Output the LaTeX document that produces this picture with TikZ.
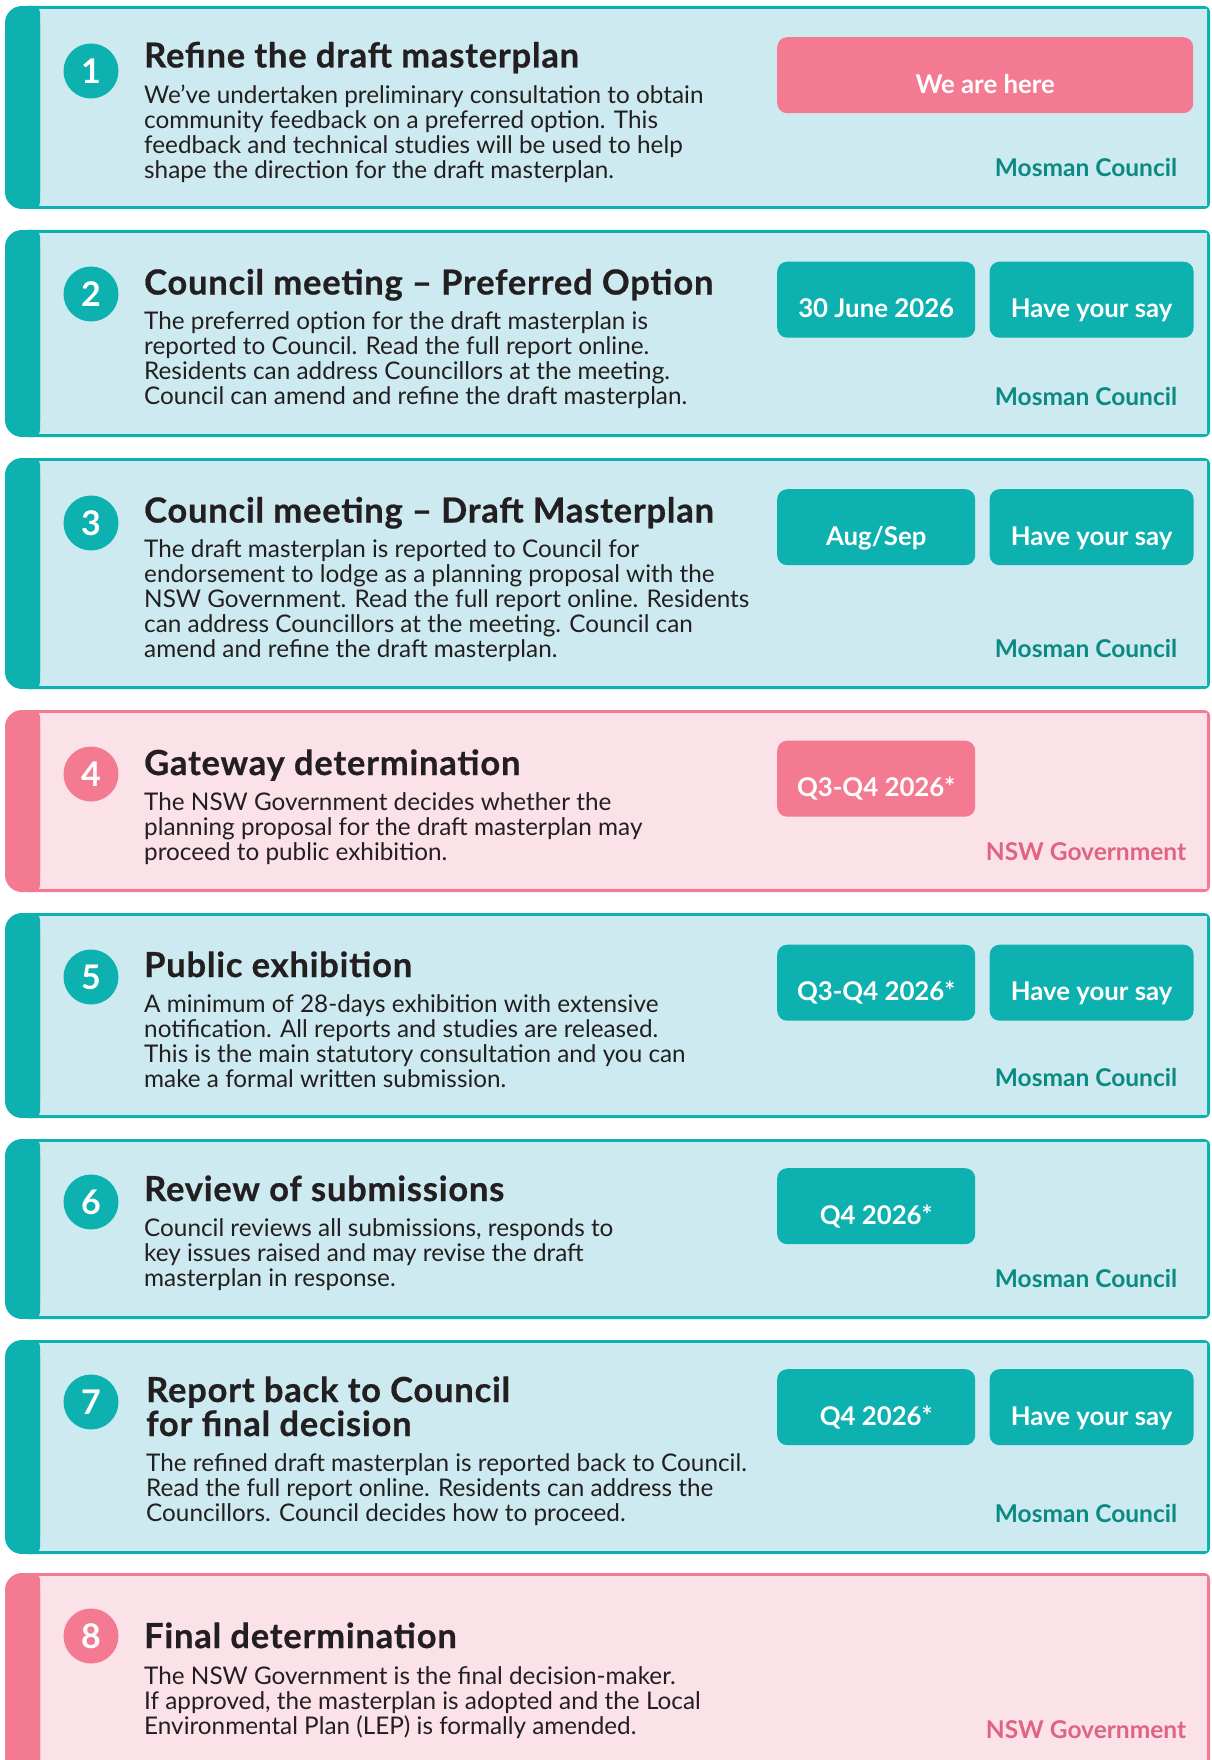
\documentclass[tikz,border=0pt]{standalone}
\usepackage{fontspec}
\setmainfont{Lato}
\usetikzlibrary{positioning}
\definecolor{barteal}{HTML}{0DB1AF}
\definecolor{bgteal}{HTML}{CDEAF0}
\definecolor{barpink}{HTML}{F37A91}
\definecolor{bgpink}{HTML}{FBE2E8}
\definecolor{orgteal}{HTML}{0B8A84}
\definecolor{orgpink}{HTML}{E06482}
\definecolor{ink}{HTML}{231F20}
\begin{document}
\begin{tikzpicture}[x=1pt,y=-1pt,
	heading/.style={anchor=base west,inner sep=0pt,text=ink,font=\fontsize{34.5}{34}\selectfont\bfseries\addfontfeatures{LetterSpace=2.3,FakeBold=0.6}},
	blurb/.style={anchor=north west,inner sep=0pt,align=left,text=ink,font=\fontsize{24.3}{25}\selectfont},
	badge/.style={circle,inner sep=0pt,minimum size=55pt,text=white,font=\fontsize{34}{34}\selectfont\bfseries},
	tag/.style={anchor=north west,rounded corners=10pt,inner sep=0pt,minimum height=76pt,minimum width=198pt,text height=36pt,text depth=0pt,text=white,font=\fontsize{25.8}{26}\selectfont\bfseries},
	org/.style={anchor=base,inner sep=0pt,font=\fontsize{24.5}{25}\selectfont\bfseries}]
	\clip (0,0) rectangle (1211,1760);
	\fill[white] (0,0) rectangle (1211,1760);
	\foreach \t/\b/\c in {6/209/teal,230/437/teal,458/689/teal,710/892/pink,913/1118/teal,1139/1319/teal,1340/1554/teal,1573/1790/pink}
	{
		\fill[bar\c,rounded corners=6pt] (20,\t) rectangle (1210,\b);
		\fill[bg\c] (22,\t+3) rectangle (1207,\b-3);
		\fill[bar\c,rounded corners=17pt] (5,\t) rectangle (40,\b);
		\fill[bar\c,rounded corners=7pt] (22,\t) rectangle (40,\b);
	}
	% 1
	\node[badge,fill=barteal] (n1) at (91,71) {1};
	\node[heading] (h1) at (144,67.5) {Refine the draft masterplan};
	\node[blurb,below=17pt of h1.base west,anchor=north west] (b1) {We've undertaken preliminary consultation to obtain\\community feedback on a preferred option. This\\feedback and technical studies will be used to help\\shape the direction for the draft masterplan.};
	\node[tag,fill=barpink,minimum width=416pt] (d1) at (777,37) {We are here};
	\node[org,text=orgteal] (o1) at (1086,177) {Mosman Council};
	% 2
	\node[badge,fill=barteal] (n2) at (91,294) {2};
	\node[heading] (h2) at (144,294.5) {Council meeting – Preferred Option};
	\node[blurb,below=17pt of h2.base west,anchor=north west] (b2) {The preferred option for the draft masterplan is\\reported to Council. Read the full report online.\\Residents can address Councillors at the meeting.\\Council can amend and refine the draft masterplan.};
	\node[tag,fill=barteal] (d2) at (777,261.5) {30 June 2026};
	\node[tag,fill=barteal,minimum width=204pt,right=14pt of d2] (s2) {Have your say};
	\node[org,text=orgteal] (o2) at (1086,405) {Mosman Council};
	% 3
	\node[badge,fill=barteal] (n3) at (91,523) {3};
	\node[heading] (h3) at (144,522.5) {Council meeting – Draft Masterplan};
	\node[blurb,below=17pt of h3.base west,anchor=north west] (b3) {The draft masterplan is reported to Council for\\endorsement to lodge as a planning proposal with the\\NSW Government. Read the full report online. Residents\\can address Councillors at the meeting. Council can\\amend and refine the draft masterplan.};
	\node[tag,fill=barteal] (d3) at (777,489) {Aug/Sep};
	\node[tag,fill=barteal,minimum width=204pt,right=14pt of d3] (s3) {Have your say};
	\node[org,text=orgteal] (o3) at (1086,657) {Mosman Council};
	% 4
	\node[badge,fill=barpink] (n4) at (91,774) {4};
	\node[heading] (h4) at (144,775) {Gateway determination};
	\node[blurb,below=17pt of h4.base west,anchor=north west] (b4) {The NSW Government decides whether the\\planning proposal for the draft masterplan may\\proceed to public exhibition.};
	\node[tag,fill=barpink] (d4) at (777,740.5) {Q3-Q4 2026*};
	\node[org,text=orgpink] (o4) at (1086,860) {NSW Government};
	% 5
	\node[badge,fill=barteal] (n5) at (91,977) {5};
	\node[heading] (h5) at (144,977) {Public exhibition};
	\node[blurb,below=17pt of h5.base west,anchor=north west] (b5) {A minimum of 28-days exhibition with extensive\\notification. All reports and studies are released.\\This is the main statutory consultation and you can\\make a formal written submission.};
	\node[tag,fill=barteal] (d5) at (777,944.5) {Q3-Q4 2026*};
	\node[tag,fill=barteal,minimum width=204pt,right=14pt of d5] (s5) {Have your say};
	\node[org,text=orgteal] (o5) at (1086,1086) {Mosman Council};
	% 6
	\node[badge,fill=barteal] (n6) at (91,1202) {6};
	\node[heading] (h6) at (144,1201) {Review of submissions};
	\node[blurb,below=17pt of h6.base west,anchor=north west] (b6) {Council reviews all submissions, responds to\\key issues raised and may revise the draft\\masterplan in response.};
	\node[tag,fill=barteal] (d6) at (777,1168) {Q4 2026*};
	\node[org,text=orgteal] (o6) at (1086,1287) {Mosman Council};
	% 7
	\node[badge,fill=barteal] (n7) at (91,1402) {7};
	\node[heading,align=left] (h7) at (146,1436) {Report back to Council\\for final decision};
	\node[blurb,below=17pt of h7.base west,anchor=north west] (b7) {The refined draft masterplan is reported back to Council.\\Read the full report online. Residents can address the\\Councillors. Council decides how to proceed.};
	\node[tag,fill=barteal] (d7) at (777,1369) {Q4 2026*};
	\node[tag,fill=barteal,minimum width=204pt,right=14pt of d7] (s7) {Have your say};
	\node[org,text=orgteal] (o7) at (1086,1522) {Mosman Council};
	% 8
	\node[badge,fill=barpink] (n8) at (91,1636) {8};
	\node[heading] (h8) at (144,1648) {Final determination};
	\node[blurb,below=18pt of h8.base west,anchor=north west] (b8) {The NSW Government is the final decision-maker.\\If approved, the masterplan is adopted and the Local\\Environmental Plan (LEP) is formally amended.};
	\node[org,text=orgpink] (o8) at (1086,1738) {NSW Government};
\end{tikzpicture}
\end{document}
